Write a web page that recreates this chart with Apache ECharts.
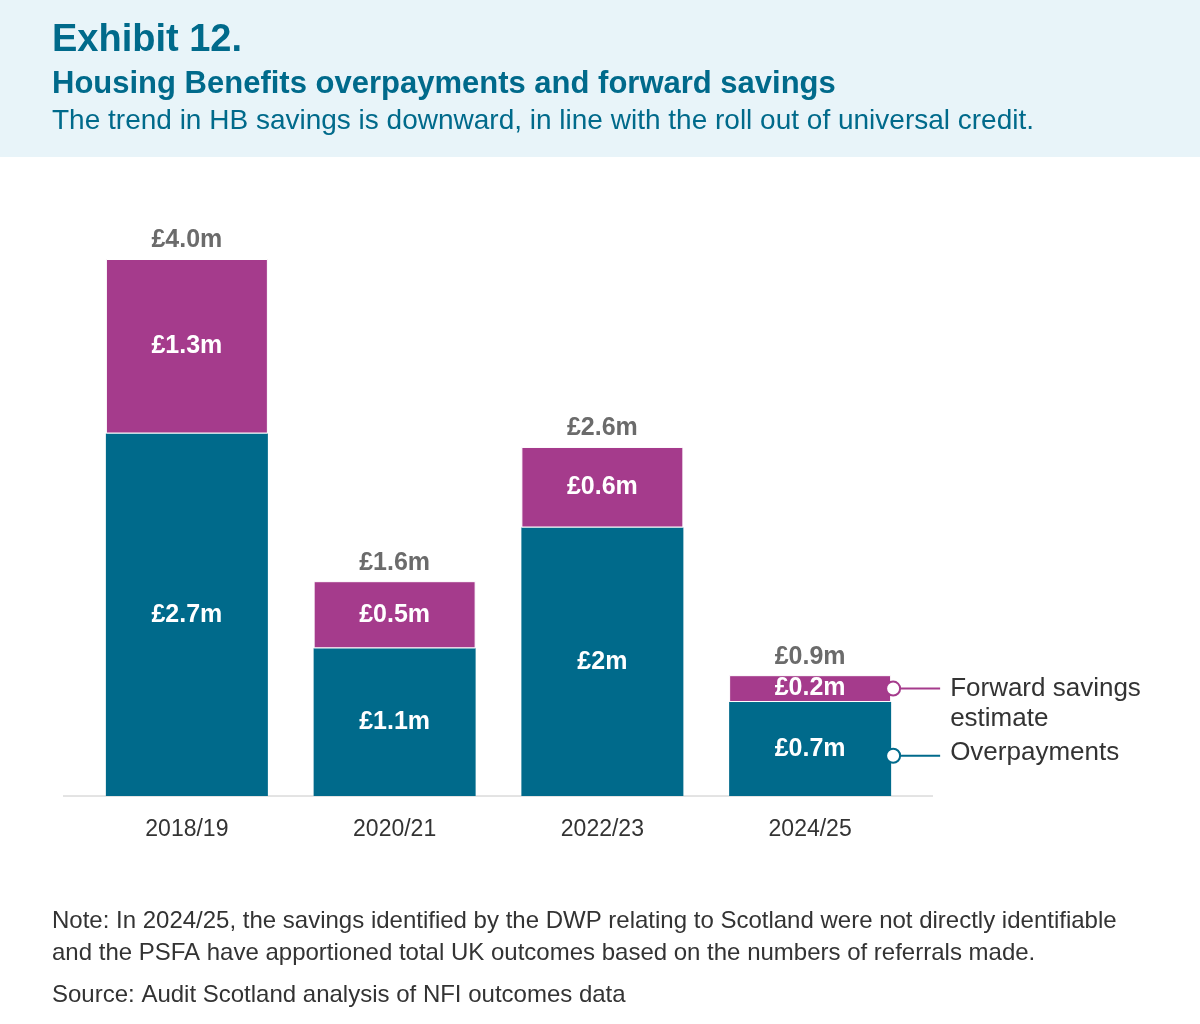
<!DOCTYPE html>
<html>
<head>
<meta charset="utf-8">
<script src="https://cdn.jsdelivr.net/npm/echarts@6/dist/echarts.min.js"></script>
<style>
  html, body { margin: 0; padding: 0; background: #fff; }
  #chart { width: 1200px; height: 1024px; }
</style>
</head>
<body>
<div id="chart"></div>
<script>
// Datos del gráfico
const categories = ['2018/19', '2020/21', '2022/23', '2024/25'];
const overpayments = [2.7, 1.1, 2, 0.7];
const forwardSavings = [1.3, 0.5, 0.6, 0.2];
const totals = [4.0, 1.6, 2.6, 0.9];

const teal = '#006a8b';
const magenta = '#a53b8c';

document.addEventListener('DOMContentLoaded', function () {
    var chart = echarts.init(document.getElementById('chart'));
    var font = '"Liberation Sans", Arial, sans-serif';

    var option = {
        animation: false,
        backgroundColor: '#fff',
        textStyle: { fontFamily: font },
        grid: { left: 83, right: 286, top: 259, bottom: 228 },
        xAxis: {
            type: 'category',
            data: categories,
            axisLine: { show: false },
            axisTick: { alignWithLabel: true, length: 16, lineStyle: { color: '#c8c8c8' } },
            axisLabel: { color: '#333', fontSize: 23, margin: 22, fontFamily: font }
        },
        yAxis: { type: 'value', min: 0, max: 4, show: false, splitLine: { show: false } },
        series: [
            {
                name: 'Overpayments',
                type: 'bar',
                stack: 'hb',
                barWidth: 162,
                data: overpayments,
                itemStyle: { color: teal },
                label: {
                    show: true, position: 'inside', color: '#fff', fontWeight: 'bold', fontSize: 25,
                    formatter: function (p) { return '£' + p.value + 'm'; }
                }
            },
            {
                name: 'Forward savings estimate',
                type: 'bar',
                stack: 'hb',
                barWidth: 162,
                data: forwardSavings,
                itemStyle: { color: magenta, borderColor: '#fff', borderWidth: 1 },
                label: {
                    show: true, position: 'inside', color: '#fff', fontWeight: 'bold', fontSize: 25,
                    formatter: function (p) { return '£' + p.value + 'm'; }
                }
            },
            {
                name: 'Total',
                type: 'bar',
                barWidth: 162,
                barGap: '-100%',
                z: 0,
                silent: true,
                data: totals,
                itemStyle: { color: 'rgba(0,0,0,0)' },
                label: {
                    show: true, position: 'top', distance: 6, color: '#6b6b6b', fontWeight: 'bold', fontSize: 25,
                    formatter: function (p) { return '£' + p.value.toFixed(1) + 'm'; }
                }
            }
        ]
    };
    chart.setOption(option);

    // Anotaciones: línea del eje y leyenda a la derecha de la última barra
    var last = categories.length - 1;
    var base = chart.convertToPixel({ gridIndex: 0 }, [0, 0]);
    var first = chart.convertToPixel({ gridIndex: 0 }, [last, 0]);
    var bandHalf = (first[0] - base[0]) / last / 2;
    var axisLeft = base[0] - bandHalf - 20;
    var axisRight = first[0] + bandHalf + 19;
    var barRight = first[0] + 81;
    var fsY = chart.convertToPixel({ gridIndex: 0 }, [last, overpayments[last] + forwardSavings[last] / 2])[1];
    var opY = chart.convertToPixel({ gridIndex: 0 }, [last, 0.3])[1];

    function marker(y, color) {
        return [
            { type: 'line', z: 100, shape: { x1: barRight + 9, y1: y, x2: barRight + 49, y2: y }, style: { stroke: color, lineWidth: 2 } },
            { type: 'circle', z: 101, shape: { cx: barRight + 2, cy: y, r: 7 }, style: { fill: '#fff', stroke: color, lineWidth: 2 } }
        ];
    }

    var graphics = [
        { type: 'rect', shape: { x: 0, y: 0, width: 1200, height: 157 }, style: { fill: '#e8f4f9' }, z: -1 },
        { type: 'text', left: 52, top: 22, style: { text: 'Exhibit 12.', fill: teal, font: 'bold 38px ' + font } },
        { type: 'text', left: 52, top: 69, style: { text: 'Housing Benefits overpayments and forward savings', fill: teal, font: 'bold 31px ' + font } },
        { type: 'text', left: 52, top: 107, style: { text: 'The trend in HB savings is downward, in line with the roll out of universal credit.', fill: teal, font: '28px ' + font } },
        { type: 'line', shape: { x1: axisLeft, y1: base[1], x2: axisRight, y2: base[1] }, style: { stroke: '#c8c8c8', lineWidth: 1 } },
        { type: 'text', left: barRight + 59, top: fsY - 15, style: { text: 'Forward savings\nestimate', fill: '#333', font: '26px ' + font, lineHeight: 30 } },
        { type: 'text', left: barRight + 59, top: opY - 16, style: { text: 'Overpayments', fill: '#333', font: '26px ' + font } },
        { type: 'text', left: 52, top: 905, style: { text: 'Note: In 2024/25, the savings identified by the DWP relating to Scotland were not directly identifiable\nand the PSFA have apportioned total UK outcomes based on the numbers of referrals made.', fill: '#333', font: '24px ' + font, lineHeight: 32 } },
        { type: 'text', left: 52, top: 983, style: { text: 'Source: Audit Scotland analysis of NFI outcomes data', fill: '#333', font: '24px ' + font } }
    ].concat(marker(fsY, magenta), marker(opY, teal));

    chart.setOption({ graphic: graphics });

    window.addEventListener('resize', function () {
        chart.resize();
    });
});
</script>
</body>
</html>
